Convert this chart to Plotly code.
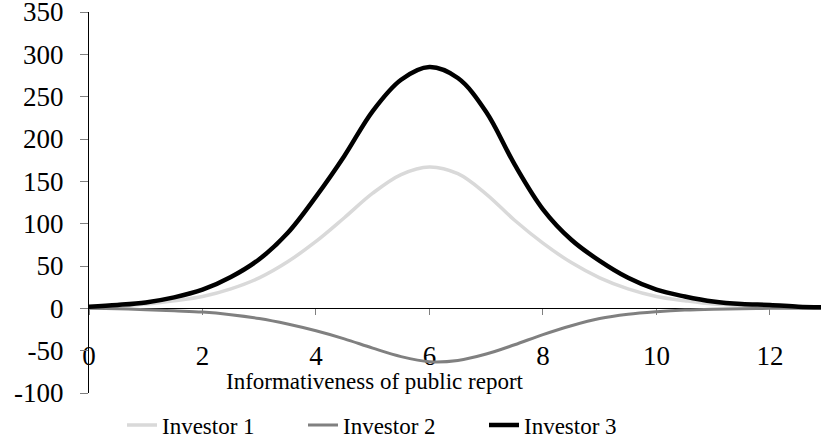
import plotly.graph_objects as go

x_vals = [0, 0.5, 1, 1.5, 2, 2.5, 3, 3.5, 4, 4.5, 5, 5.5, 6, 6.5, 7, 7.5, 8, 8.5, 9, 9.5, 10, 10.5, 11, 11.5, 12, 12.5, 13]
investor1 = [1, 2.5, 5, 9, 14, 23, 36, 55, 79, 107, 136, 158, 167, 159, 135, 104, 77, 54, 36, 23, 14, 9, 5, 3.5, 2.5, 1.5, 1]
investor2 = [0, -0.5, -1.6, -3, -4.4, -7.5, -12, -18.5, -26.5, -36, -47, -57, -63, -61.5, -54, -43, -31, -20.5, -12, -7, -4, -2, -1, -0.5, 0, 0, 0]
investor3 = [2, 4, 7, 13, 22, 37, 58, 89, 132, 180, 233, 270, 285, 272, 232, 170, 117, 81, 56, 36, 22, 14, 8, 5, 4, 2, 1]

series_names = ["Investor 1", "Investor 2", "Investor 3"]
y_tickvals = [-100, -50, 0, 50, 100, 150, 200, 250, 300, 350]
y_ticktext = ["-100", "-50", "0", "50", "100", "150", "200", "250", "300", "350"]
x_tickvals = [0, 2, 4, 6, 8, 10, 12]
x_ticktext = ["0", "2", "4", "6", "8", "10", "12"]
x_title = "Informativeness of public report"

Y_MIN, Y_MAX = -100, 350
X_MIN, X_MAX = 0, 12.9

FONT = "Liberation Serif, Times New Roman, serif"

fig = go.Figure()
styles = [("#d9d9d9", 3.5), ("#808080", 3), ("#000000", 4.5)]
for name, ys, (col, w) in zip(series_names, [investor1, investor2, investor3], styles):
    fig.add_trace(go.Scatter(x=x_vals, y=ys, mode="lines", name=name,
                             line=dict(color=col, width=w, shape="spline", smoothing=1)))

fig.update_layout(
    width=821, height=444,
    margin=dict(l=89, r=0, t=12, b=51, autoexpand=False),
    paper_bgcolor="white", plot_bgcolor="white",
    font=dict(family=FONT, color="black", size=23),
    showlegend=True,
    legend=dict(orientation="h", x=(122 - 89) / 732, xanchor="left",
                y=(393 - 425) / 381, yanchor="middle",
                bgcolor="rgba(0,0,0,0)", font=dict(size=23, family=FONT),
                entrywidth=136, entrywidthmode="pixels",
                itemwidth=30, tracegroupgap=0),
    xaxis=dict(range=[X_MIN, X_MAX], anchor="free",
               position=(0 - Y_MIN) / (Y_MAX - Y_MIN),
               showline=True, linecolor="black", linewidth=1,
               showgrid=False, zeroline=False, automargin=False,
               ticks="outside", ticklen=6, tickcolor="#808080", tickwidth=1,
               tickvals=x_tickvals, ticktext=x_ticktext,
               tickfont=dict(size=27, family=FONT),
               ticklabelstandoff=17, ticklabeloverflow="allow",
               layer="below traces"),
    yaxis=dict(range=[Y_MIN, Y_MAX], showline=True, linecolor="black", linewidth=1,
               showgrid=False, zeroline=False, automargin=False,
               ticks="outside", ticklen=8, tickcolor="#808080", tickwidth=1,
               tickvals=y_tickvals, ticktext=y_ticktext,
               tickfont=dict(size=27, family=FONT),
               ticklabelstandoff=11, ticklabeloverflow="allow",
               layer="below traces"),
)

fig.add_annotation(text=x_title, xref="paper", yref="paper",
                   x=(374.5 - 89) / 732, y=(393 - 381) / 381,
                   xanchor="center", yanchor="middle", showarrow=False,
                   font=dict(size=23, family=FONT, color="black"))

fig.write_html("out.html", config={"displayModeBar": False},
               post_script="document.body.style.margin='0';")
